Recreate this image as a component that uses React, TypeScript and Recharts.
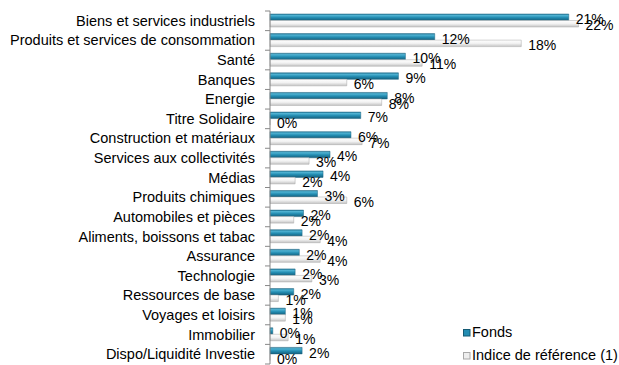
import { BarChart, Bar, XAxis, YAxis, LabelList } from 'recharts';

const categories = [
  'Biens et services industriels',
  'Produits et services de consommation',
  'Santé',
  'Banques',
  'Energie',
  'Titre Solidaire',
  'Construction et matériaux',
  'Services aux collectivités',
  'Médias',
  'Produits chimiques',
  'Automobiles et pièces',
  'Aliments, boissons et tabac',
  'Assurance',
  'Technologie',
  'Ressources de base',
  'Voyages et loisirs',
  'Immobilier',
  'Dispo/Liquidité Investie',
];

const fonds = [21.4, 11.8, 9.7, 9.2, 8.4, 6.5, 5.8, 4.3, 3.8, 3.4, 2.4, 2.3, 2.1, 1.8, 1.7, 1.1, 0.2, 2.3];
const indice = [22.1, 18.0, 10.9, 5.5, 8.0, 0, 6.6, 2.8, 1.8, 5.5, 1.7, 3.6, 3.6, 3.0, 0.6, 1.1, 1.3, 0];

const seriesNames = ['Fonds', 'Indice de référence (1)'];

const WIDTH = 619;
const HEIGHT = 365;
const TOP = 11;
const BOTTOM = 1;
const AXIS_X = 270;
const BAND = (HEIGHT - TOP - BOTTOM) / categories.length;
const FONT = '"Liberation Sans", Arial, sans-serif';

const data = categories.map((name, i) => ({ name, fonds: fonds[i], indice: indice[i] }));

// Excel-style axis: labels at band centres, tick marks on band boundaries
function CategoryTick({ y, payload, index }: any) {
  const last = index === categories.length - 1;
  return (
    <g>
      <text x={AXIS_X - 15} y={y} textAnchor="end" dominantBaseline="central" fontSize={14.5} fill="#000" fontFamily={FONT}>
        {payload.value}
      </text>
      <line x1={AXIS_X - 5} x2={AXIS_X} y1={y - BAND / 2} y2={y - BAND / 2} stroke="#888" />
      {last && <line x1={AXIS_X - 5} x2={AXIS_X} y1={y + BAND / 2} y2={y + BAND / 2} stroke="#888" />}
    </g>
  );
}

const pct = (v: any) => `${Math.round(Number(v))}%`;
// keep zero rows in the layout so their "0%" label still shows
const keepZero = (v: any) => (Number(v) === 0 ? 0.01 : 0);

function LegendBox({ fill, stroke }: { fill: string; stroke: string }) {
  return (
    <svg width={8} height={8} style={{ marginRight: 1 }}>
      <rect x={0.5} y={0.5} width={6.5} height={6.5} fill={fill} stroke={stroke} />
    </svg>
  );
}

export default function App() {
  return (
    <div style={{ position: 'absolute', left: 0, top: 0, width: WIDTH, height: HEIGHT, background: '#fff', fontFamily: FONT }}>
      <BarChart
        width={WIDTH}
        height={HEIGHT}
        data={data}
        layout="vertical"
        margin={{ top: TOP, right: 0, bottom: BOTTOM, left: 0 }}
        barGap={0}
        barSize={6.5}
      >
        <defs>
          <linearGradient id="gFonds" x1="0" y1="0" x2="0" y2="1">
            <stop offset="0%" stopColor="#2c7f9e" />
            <stop offset="22%" stopColor="#4fb2d2" />
            <stop offset="55%" stopColor="#238db2" />
            <stop offset="100%" stopColor="#165f7c" />
          </linearGradient>
          <linearGradient id="gIndice" x1="0" y1="0" x2="0" y2="1">
            <stop offset="0%" stopColor="#ffffff" />
            <stop offset="50%" stopColor="#f2f2f2" />
            <stop offset="100%" stopColor="#c4c4c4" />
          </linearGradient>
        </defs>
        <XAxis type="number" domain={[0, 25]} hide />
        <YAxis
          type="category"
          dataKey="name"
          width={AXIS_X}
          axisLine={{ stroke: '#888' }}
          tickLine={false}
          interval={0}
          tick={<CategoryTick />}
        />
        <Bar dataKey="fonds" name={seriesNames[0]} fill="url(#gFonds)" stroke="#1b6582" strokeWidth={0.5} minPointSize={keepZero} isAnimationActive={false}>
          <LabelList dataKey="fonds" position="right" offset={7} formatter={pct} fontSize={14} fill="#000" fontFamily={FONT} dy={2} />
        </Bar>
        <Bar dataKey="indice" name={seriesNames[1]} fill="url(#gIndice)" stroke="#a8a8a8" strokeWidth={0.5} minPointSize={keepZero} isAnimationActive={false}>
          <LabelList dataKey="indice" position="right" offset={7} formatter={pct} fontSize={14} fill="#000" fontFamily={FONT} dy={1.5} />
        </Bar>
      </BarChart>
      <div style={{ position: 'absolute', left: 463, top: 323, fontSize: 14.5, lineHeight: '19px', color: '#000', whiteSpace: 'nowrap' }}>
        <div style={{ display: 'flex', alignItems: 'center' }}>
          <LegendBox fill="#238db2" stroke="#155a74" />
          <span>{seriesNames[0]}</span>
        </div>
        <div style={{ display: 'flex', alignItems: 'center', marginTop: 4 }}>
          <LegendBox fill="#eeeeee" stroke="#a8a8a8" />
          <span>{seriesNames[1]}</span>
        </div>
      </div>
    </div>
  );
}
